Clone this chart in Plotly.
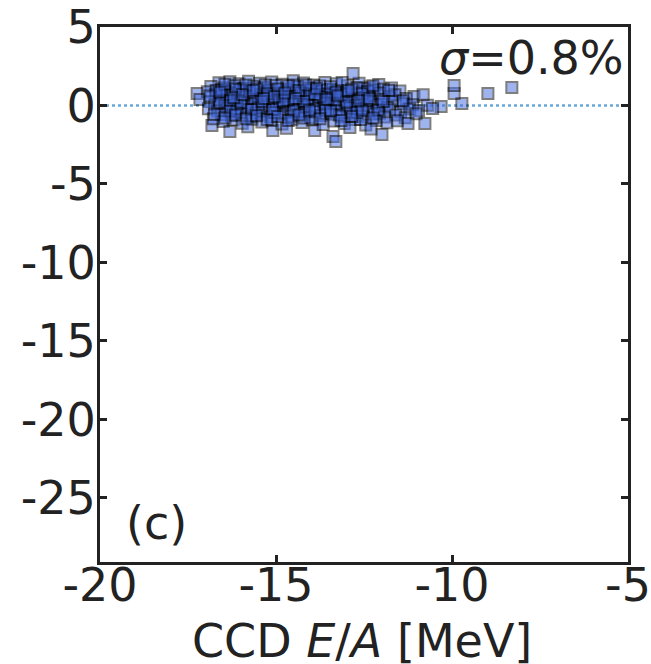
import plotly.graph_objects as go

points = [
    # top band
    (-16.62,1.45),(-16.31,1.52),(-16.05,1.38),(-15.78,1.55),(-15.46,1.41),(-15.12,1.49),(-14.83,1.36),(-14.51,1.58),
    (-14.22,1.44),(-13.93,1.30),(-13.61,1.47),(-13.28,1.39),(-12.97,1.25),(-12.64,1.42),(-12.33,1.18),(-12.08,1.33),
    (-11.72,1.12),(-16.85,1.21),(-16.48,1.12),(-16.19,1.26),(-15.92,1.09),(-15.63,1.22),(-15.34,1.15),(-15.01,1.27),
    (-14.68,1.05),(-14.39,1.19),(-14.07,1.11),(-13.76,1.24),(-13.44,1.02),(-13.12,1.46),(-12.81,2.04),(-12.49,1.08),
    (-12.21,0.98),(-11.95,1.05),
    # upper middle
    (-17.24,0.76),(-16.95,0.88),(-16.71,0.72),(-16.44,0.91),(-16.16,0.79),(-15.89,0.95),(-15.58,0.68),(-15.29,0.86),
    (-14.97,0.74),(-14.70,0.93),(-14.43,0.81),(-14.15,0.66),(-13.85,0.89),(-13.57,0.77),(-13.25,0.94),(-12.93,0.71),
    (-12.62,0.85),(-12.35,0.62),(-12.05,0.79),(-11.78,0.55),(-11.48,0.92),(-11.08,0.57),(-16.58,0.55),(-16.27,0.61),
    (-15.99,0.52),(-15.71,0.58),(-15.42,0.50),(-15.14,0.63),(-14.85,0.54),(-14.56,0.60),(-14.28,0.49),(-13.98,0.57),
    (-13.69,0.51),(-13.39,0.65),(-13.08,0.53),(-12.77,0.46),(-11.62,0.69),(-11.30,0.45),(-10.82,0.68),
    # around zero
    (-17.16,0.38),(-16.88,0.25),(-16.62,0.41),(-16.35,0.18),(-16.08,0.33),(-15.81,0.12),(-15.52,0.37),(-15.23,0.21),
    (-14.94,0.40),(-14.66,0.15),(-14.37,0.29),(-14.09,0.06),(-13.80,0.35),(-13.51,0.19),(-13.20,0.02),(-12.90,0.31),
    (-12.58,0.14),(-12.28,0.24),(-11.98,0.08),(-11.69,0.27),(-11.38,0.11),(-11.12,0.05),(-10.70,0.02),(-16.74,0.05),
    (-16.46,-0.02),(-16.20,0.08),(-15.94,-0.05),(-15.66,0.03),(-15.37,-0.08),(-15.08,0.04),(-14.79,-0.03),(-14.51,0.09),
    (-14.23,-0.06),(-13.94,0.01),(-13.65,-0.10),(-13.35,0.07),(-13.04,-0.04),(-12.74,0.00),(-12.43,-0.09),(-12.13,0.03),
    (-11.84,-0.12),(-10.31,-0.06),(-10.55,-0.19),(-9.72,0.13),(-9.94,0.76),(-9.94,1.27),(-8.98,0.76),(-8.30,1.15),
    # lower middle
    (-16.92,-0.21),(-16.66,-0.35),(-16.39,-0.18),(-16.12,-0.42),(-15.85,-0.27),(-15.57,-0.48),(-15.29,-0.31),(-15.00,-0.19),
    (-14.72,-0.44),(-14.44,-0.26),(-14.16,-0.38),(-13.87,-0.22),(-13.58,-0.47),(-13.28,-0.29),(-12.98,-0.41),(-12.68,-0.23),
    (-12.37,-0.36),(-12.06,-0.49),(-11.77,-0.27),(-11.46,-0.40),(-11.20,-0.22),(-10.95,-0.33),(-16.55,-0.58),(-16.27,-0.66),
    (-15.99,-0.55),(-15.71,-0.71),(-15.43,-0.60),(-15.15,-0.74),(-14.86,-0.57),(-14.58,-0.69),(-14.30,-0.52),(-14.01,-0.76),
    (-13.72,-0.63),(-13.43,-0.55),(-13.13,-0.72),(-12.83,-0.59),(-12.52,-0.68),(-12.21,-0.54),(-11.91,-0.74),(-11.60,-0.61),
    (-11.33,-0.78),(-11.02,-0.52),
    # bottom band
    (-16.82,-1.27),(-16.78,-0.85),(-16.50,-1.02),(-16.31,-1.66),(-16.22,-0.91),(-15.96,-1.13),(-15.68,-0.88),(-15.40,-1.05),
    (-15.09,-1.60),(-15.12,-0.95),(-14.83,-1.18),(-14.55,-0.87),(-14.26,-1.09),(-13.97,-0.93),(-13.90,-1.60),(-13.66,-1.21),
    (-13.38,-1.97),(-13.30,-2.29),(-13.36,-0.98),(-13.06,-1.14),(-12.76,-0.90),(-12.45,-1.24),(-12.15,-0.96),(-11.99,-1.85),
    (-11.85,-1.10),(-11.55,-0.97),(-11.25,-1.15),(-10.77,-1.15),(-15.80,-1.35),(-14.70,-1.45),(-12.90,-1.40),(-12.30,-1.50),
    # extra core
    (-16.40,0.70),(-16.02,0.98),(-15.60,0.44),(-15.20,0.99),(-14.90,0.22),(-14.50,1.30),(-14.10,0.45),(-13.70,0.98),
    (-13.30,0.35),(-13.00,0.85),(-12.70,1.15),(-16.70,0.95),(-16.10,-0.20),(-15.50,-0.15),(-14.80,0.60),(-14.30,0.80),
    (-13.90,-0.40),(-13.50,0.70),(-12.90,-0.15),(-12.50,0.50),(-16.30,0.30),(-15.75,0.85),(-15.05,-0.45),(-14.65,0.35),
    (-14.00,1.00),(-13.20,-0.60),(-12.40,0.90),(-12.00,0.40),(-11.40,0.30),(-11.80,0.95),(-16.55,1.00),(-15.30,1.30),
    (-14.20,-0.80),(-13.60,0.15),(-12.60,-0.90),
    # dense core fill
    (-16.45,1.35),(-16.15,1.05),(-15.85,1.30),(-15.55,1.05),(-15.25,0.75),(-14.95,1.05),(-14.65,1.25),(-14.35,0.95),
    (-14.05,0.75),(-13.75,0.55),(-13.45,1.20),(-13.15,0.70),(-12.85,1.05),(-12.55,0.75),(-12.25,1.25),(-16.60,0.20),
    (-16.30,-0.35),(-16.00,0.20),(-15.70,-0.25),(-15.40,0.25),(-15.10,-0.25),(-14.80,0.30),(-14.50,-0.35),(-14.20,0.25),
    (-13.90,0.70),(-13.60,-0.30),(-13.30,0.85),(-13.00,0.20),(-12.70,-0.45),(-12.40,0.30),(-12.10,-0.30),(-16.75,-0.55),
    (-16.45,-0.80),(-16.15,-0.60),(-15.85,-0.85),(-15.55,-0.65),(-15.25,-0.90),(-14.95,-0.70),(-14.65,-0.95),(-14.35,-0.60),
    (-14.05,-0.30),(-13.75,-0.85),(-13.45,-0.35),(-13.15,-0.95),(-12.85,-0.70),(-12.55,-0.30),(-12.25,-0.80),(-11.95,0.25),
    (-16.88,0.60),(-16.60,0.85),(-16.20,0.50),(-15.95,0.70),(-15.65,0.95),(-15.35,0.45),(-15.05,0.55),(-14.75,0.80),
    (-14.45,0.45),(-14.15,1.30),(-13.85,1.10),(-13.55,0.40),(-13.25,0.60),(-12.95,0.95),(-12.65,0.30),(-12.35,0.45),
]
x_vals = [p[0] for p in points]
y_vals = [p[1] for p in points]

x_ticks = [-20, -15, -10, -5]
y_ticks = [5, 0, -5, -10, -15, -20, -25]
x_range = [-20, -5]
y_range = [-29.08, 5]
sigma_label = "<i>σ</i>=0.8%"
panel_label = "(c)"
x_title = "CCD <i>E</i>/<i>A</i> [MeV]"

FONT = "DejaVu Sans"
INK = "#222222"
FS = 46

fig = go.Figure()
fig.add_trace(go.Scatter(
    x=x_range, y=[0, 0], mode="lines",
    line=dict(color="#6aa8d8", width=2.5, dash="dot"),
    hoverinfo="skip", showlegend=False,
))
fig.add_trace(go.Scatter(
    x=x_vals, y=y_vals, mode="markers",
    marker=dict(symbol="square", size=11, color="royalblue", opacity=0.5,
                line=dict(color="black", width=2)),
    showlegend=False,
))

axis_common = dict(
    showgrid=False, zeroline=False, showline=True, linewidth=3, linecolor=INK,
    mirror="ticks", ticks="inside", ticklen=7, tickwidth=2.5, tickcolor=INK,
    tickfont=dict(family=FONT, size=FS, color=INK), automargin=False,
)
fig.update_xaxes(range=x_range, tickvals=x_ticks, ticktext=[str(v) for v in x_ticks],
                 ticklabelstandoff=-19, **axis_common)
fig.update_yaxes(range=y_range, tickvals=y_ticks, ticktext=[str(v) for v in y_ticks],
                 ticklabelstandoff=-8, **axis_common)

fig.add_annotation(x=0.5, y=0, xref="paper", yref="paper", xanchor="center", yanchor="top",
                   text=x_title, showarrow=False, yshift=-50, xshift=-2,
                   font=dict(family=FONT, size=46, color=INK))
fig.add_annotation(x=1, y=1, xref="paper", yref="paper", xanchor="right", yanchor="top",
                   text=sigma_label, showarrow=False, xshift=-2, yshift=-2,
                   font=dict(family=FONT, size=FS, color=INK))
fig.add_annotation(x=0, y=0, xref="paper", yref="paper", xanchor="left", yanchor="bottom",
                   text=panel_label, showarrow=False, xshift=24, yshift=10,
                   font=dict(family=FONT, size=FS, color=INK))

fig.update_layout(
    width=651, height=664, margin=dict(l=100, r=23, t=27, b=102),
    plot_bgcolor="white", paper_bgcolor="white",
)
fig.write_html("out.html")
